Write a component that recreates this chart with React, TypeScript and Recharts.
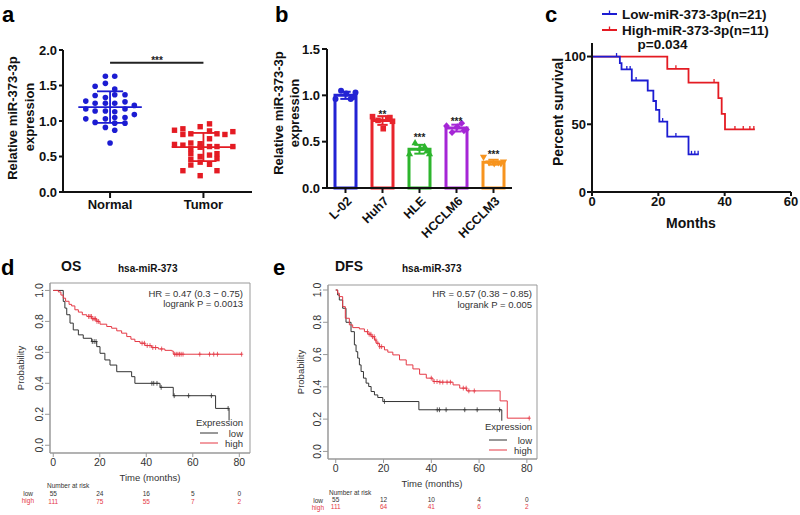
import React from "react";
import {
  ComposedChart,
  Scatter,
  Bar,
  Cell,
  Line,
  XAxis,
  YAxis,
  ReferenceLine,
  ReferenceArea,
} from "recharts";

const FONT = "'Liberation Sans', Arial, Helvetica, sans-serif";

// ---------- panel a: tissue expression ----------
const tissueNames = ["Normal", "Tumor"];
const normalExpr = [
  1.63, 1.53, 1.33, 1.25, 1.14, 1.03, 0.91,
  1.63, 1.45, 1.37, 1.25, 1.13, 1.05, 0.97, 0.87,
  1.49, 1.36, 1.25, 1.14, 0.98,
  1.28, 1.17, 1.03,
  1.37, 1.27, 1.17, 1.05, 0.97,
  1.22, 1.09,
  0.69,
];
const normalJitter = [
  -0.05, -0.05, -0.05, -0.05, -0.05, -0.05, -0.05,
  0.05, 0.05, 0.05, 0.05, 0.05, 0.05, 0.05, 0.05,
  -0.16, -0.16, -0.16, -0.16, -0.16,
  -0.26, -0.26, -0.26,
  0.16, 0.16, 0.16, 0.16, 0.16,
  0.26, 0.26,
  0,
];
const tumorExpr = [
  0.87, 0.89, 0.92, 0.96,
  0.81, 0.82, 0.86, 0.82, 0.81, 0.85,
  0.67, 0.66, 0.69, 0.68, 0.75,
  0.61, 0.63, 0.64, 0.64, 0.64,
  0.54, 0.5, 0.52, 0.54,
  0.46, 0.42, 0.47,
  0.38, 0.39,
  0.3, 0.3,
  0.23,
];
const tumorJitter = [
  -0.31, -0.22, -0.035, 0.065,
  -0.22, -0.135, 0.065, 0.145, 0.23, 0.315,
  -0.31, -0.22, -0.135, -0.035, 0.065,
  -0.135, -0.035, 0.065, 0.145, 0.315,
  -0.135, -0.035, 0.065, 0.145,
  -0.135, -0.035, 0.145,
  -0.135, 0.065,
  -0.22, 0.145,
  -0.035,
];

// ---------- panel b: cell lines ----------
const cellLines = ["L-02", "Huh7", "HLE", "HCCLM6", "HCCLM3"];
const l02Rep = [0.96, 1.05, 1.02, 0.96, 1.03, 0.98];
const huh7Rep = [0.77, 0.73, 0.64, 0.75, 0.72, 0.76];
const hleRep = [0.37, 0.49, 0.43, 0.45, 0.37, 0.4];
const hcclm6Rep = [0.67, 0.6, 0.66, 0.7, 0.63, 0.62];
const hcclm3Rep = [0.33, 0.27, 0.26, 0.27, 0.28, 0.26];
const replicateJitter = [-0.27, -0.12, 0.02, 0.14, 0.27, 0.2];
const cellSig = ["", "**", "***", "***", "***"];
const cellSigY = [0, 0.82, 0.57, 0.75, 0.39];
const cellColors = ["#2323d4", "#e8242c", "#2db52d", "#a526d6", "#f7941e"];
const cellMarkers = ["circle", "square", "triangle", "diamond", "down"];

// ---------- panel c: survival ----------
const cLowT = [0, 8.4, 8.9, 12.0, 16.8, 18.5, 19.3, 20.3, 22.7, 29.1, 32.2];
const cLowS = [100, 95.2, 90.5, 82.3, 74.9, 67.2, 60.6, 52.0, 40.9, 27.8, 27.8];
const cLowCensor = [7.4, 10.5, 11.5, 13.3, 21.3, 25.3, 30.0, 31.0, 32.0];
const cHighT = [0, 22.7, 29.1, 38.1, 39.1, 40.1, 49.1];
const cHighS = [100, 90.9, 80.8, 69.3, 57.7, 46.2, 46.2];
const cHighCensor = [25.3, 36.8, 43.1, 45.6, 47.6, 48.8];

// ---------- panel d: OS ----------
const riskTicks = [0, 20, 40, 60, 80];
const osHighT = [0, 2.2, 3.3, 4.3, 5.3, 6.8, 7.9, 9.3, 10.8, 12.5, 14.4, 16.5, 18.7, 20.1, 23.0, 25.1, 27.3, 29.4, 31.6, 33.4, 35.1, 37.3, 39.4, 42.3, 45.2, 48.0, 50.9, 51.6, 81.0];
const osHighP = [1.0, 0.99, 0.97, 0.95, 0.93, 0.91, 0.9, 0.875, 0.86, 0.843, 0.832, 0.817, 0.8, 0.782, 0.767, 0.756, 0.739, 0.724, 0.702, 0.685, 0.67, 0.659, 0.644, 0.631, 0.622, 0.613, 0.609, 0.588, 0.588];
const osLowT = [0, 4.3, 5.0, 5.8, 7.2, 8.6, 10.8, 12.9, 16.5, 18.7, 20.1, 22.2, 24.4, 27.3, 33.7, 35.1, 45.9, 51.6, 69.8, 75.6];
const osLowP = [1.0, 0.929, 0.886, 0.843, 0.789, 0.745, 0.713, 0.691, 0.67, 0.637, 0.594, 0.551, 0.518, 0.475, 0.443, 0.4, 0.374, 0.32, 0.238, 0.16];
const osHighCensor = [15.2, 15.8, 16.4, 17.0, 17.6, 18.2, 18.8, 19.5, 38.2, 39.2, 40.4, 41.6, 42.8, 44.0, 46.6, 52.2, 52.9, 53.6, 54.3, 55.0, 55.8, 63.0, 67.2, 69.0, 70.6, 81.0];
const osLowCensor = [16.8, 17.6, 18.4, 42.4, 43.2, 44.6, 46.4, 52.0, 58.2, 68.0, 75.2];
const osRiskLow = [55, 24, 16, 5, 0];
const osRiskHigh = [111, 75, 55, 7, 2];

// ---------- panel e: DFS ----------
const dfsHighT = [0, 0.8, 1.5, 2.9, 4.0, 5.7, 7.1, 9.9, 12.0, 13.4, 14.8, 16.2, 16.9, 18.3, 20.4, 21.8, 23.9, 26.7, 29.5, 32.3, 35.1, 37.9, 40.7, 43.5, 49.1, 51.9, 54.8, 68.8, 71.8, 81.1];
const dfsHighP = [1.0, 0.98, 0.959, 0.897, 0.825, 0.784, 0.767, 0.759, 0.742, 0.726, 0.711, 0.69, 0.67, 0.649, 0.629, 0.615, 0.598, 0.567, 0.536, 0.511, 0.478, 0.454, 0.433, 0.429, 0.412, 0.392, 0.375, 0.313, 0.206, 0.206];
const dfsLowT = [0, 0.8, 1.5, 2.9, 4.3, 6.4, 7.8, 8.5, 9.2, 9.9, 10.6, 11.6, 12.7, 13.8, 14.8, 16.2, 17.6, 19.7, 34.8, 69.5];
const dfsLowP = [1.0, 0.969, 0.938, 0.887, 0.8, 0.742, 0.66, 0.618, 0.578, 0.536, 0.495, 0.454, 0.423, 0.402, 0.371, 0.35, 0.334, 0.309, 0.258, 0.19];
const dfsHighCensor = [13.3, 14.0, 14.7, 15.4, 16.1, 16.8, 17.6, 18.4, 19.2, 40.0, 41.2, 42.4, 43.6, 44.8, 46.6, 48.0, 53.4, 54.6, 55.7, 58.0, 81.0];
const dfsLowCensor = [20.4, 42.5, 43.4, 46.2, 54.0, 59.2, 68.6];
const dfsRiskLow = [55, 12, 10, 4, 0];
const dfsRiskHigh = [111, 64, 41, 6, 2];

// ---------- helpers ----------
const mean = (a: number[]) => a.reduce((s, v) => s + v, 0) / a.length;
const sd = (a: number[]) => {
  const m = mean(a);
  return Math.sqrt(a.reduce((s, v) => s + (v - m) ** 2, 0) / (a.length - 1));
};
const survAt = (T: number[], P: number[], t: number) => {
  let p = P[0];
  T.forEach((tt, i) => {
    if (tt <= t) p = P[i];
  });
  return p;
};

const BLUE = "#1c1cd2";
const RED = "#e41b23";
const KM_RED = "#e53945";
const KM_BLACK = "#333";
const BOLD = { fontFamily: FONT, fontWeight: "bold" as const, fill: "#111" };

// ---------- panel a ----------
const normalPts = normalExpr.map((y, i) => ({ x: 1 + normalJitter[i], y }));
const tumorPts = tumorExpr.map((y, i) => ({ x: 2 + tumorJitter[i], y }));
const tissueSets = [normalExpr, tumorExpr];

const PanelA = () => (
  <div style={{ position: "absolute", left: 0, top: 0 }}>
    <ComposedChart width={260} height={240} margin={{ top: 50, right: 8, bottom: 0, left: 0 }}>
      <XAxis
        type="number"
        dataKey="x"
        domain={[0.496, 2.52]}
        ticks={[1, 2]}
        tickFormatter={(v, i) => tissueNames[i]}
        height={48}
        tickSize={6}
        tickMargin={2}
        stroke="#111"
        strokeWidth={2}
        tick={{ ...BOLD, fontSize: 13 }}
      />
      <YAxis
        type="number"
        dataKey="y"
        domain={[0, 2]}
        ticks={[0, 0.5, 1, 1.5, 2]}
        tickFormatter={(v) => v.toFixed(1)}
        width={63}
        tickSize={4}
        tickMargin={2}
        stroke="#111"
        strokeWidth={2}
        tick={{ ...BOLD, fontSize: 13 }}
      />
      <Scatter
        data={normalPts}
        dataKey="y"
        isAnimationActive={false}
        shape={(p: any) => <circle cx={p.cx} cy={p.cy} r={2.8} fill={BLUE} />}
      />
      <Scatter
        data={tumorPts}
        dataKey="y"
        isAnimationActive={false}
        shape={(p: any) => <rect x={p.cx - 2.7} y={p.cy - 2.7} width={5.4} height={5.4} fill={RED} />}
      />
      {tissueSets.map((vals, i) => {
        const m = mean(vals);
        const s = sd(vals);
        const c = i === 0 ? BLUE : RED;
        const x = i + 1;
        return (
          <React.Fragment key={i}>
            <ReferenceLine segment={[{ x: x - 0.34, y: m }, { x: x + 0.34, y: m }]} stroke={c} strokeWidth={1.8} />
            <ReferenceLine segment={[{ x, y: m - s }, { x, y: m + s }]} stroke={c} strokeWidth={1.8} />
            <ReferenceLine segment={[{ x: x - 0.14, y: m + s }, { x: x + 0.14, y: m + s }]} stroke={c} strokeWidth={1.8} />
            <ReferenceLine segment={[{ x: x - 0.14, y: m - s }, { x: x + 0.14, y: m - s }]} stroke={c} strokeWidth={1.8} />
          </React.Fragment>
        );
      })}
      <ReferenceLine segment={[{ x: 1, y: 1.82 }, { x: 2, y: 1.82 }]} stroke="#222" strokeWidth={2} />
    </ComposedChart>
  </div>
);

// ---------- panel b ----------
const cellReps = [l02Rep, huh7Rep, hleRep, hcclm6Rep, hcclm3Rep];
const cellBars = cellLines.map((name, i) => ({ name, mean: mean(cellReps[i]) }));
const sigPts = cellSig
  .map((s, i) => ({ x: i, y: cellSigY[i], s }))
  .filter((d) => d.s !== "");

const marker = (kind: string, color: string) => (p: any) => {
  const { cx, cy } = p;
  if (kind === "circle") return <circle cx={cx} cy={cy} r={3} fill={color} />;
  if (kind === "square") return <rect x={cx - 2.8} y={cy - 2.8} width={5.6} height={5.6} fill={color} />;
  if (kind === "triangle")
    return <polygon points={`${cx},${cy - 3.6} ${cx - 3.6},${cy + 2.6} ${cx + 3.6},${cy + 2.6}`} fill={color} />;
  if (kind === "diamond")
    return <polygon points={`${cx},${cy - 3.6} ${cx - 3.4},${cy} ${cx},${cy + 3.6} ${cx + 3.4},${cy}`} fill={color} />;
  return <polygon points={`${cx},${cy + 3.6} ${cx - 3.6},${cy - 2.6} ${cx + 3.6},${cy - 2.6}`} fill={color} />;
};

const RotTick = (p: any) => (
  <text
    x={p.x + 4}
    y={p.y + 4}
    transform={`rotate(-45 ${p.x + 4} ${p.y + 4})`}
    textAnchor="end"
    dominantBaseline="central"
    fontFamily={FONT}
    fontWeight="bold"
    fontSize={12.5}
    fill="#111"
  >
    {p.payload.value}
  </text>
);

const PanelB = () => (
  <div style={{ position: "absolute", left: 240, top: 0 }}>
    <ComposedChart width={280} height={250} data={cellBars} margin={{ top: 49, right: 8, bottom: 0, left: 0 }}>
      <XAxis
        xAxisId="cat"
        dataKey="name"
        type="category"
        height={62}
        tickSize={5}
        tickMargin={2}
        stroke="#111"
        strokeWidth={2}
        interval={0}
        tick={RotTick}
      />
      <XAxis xAxisId="num" dataKey="x" type="number" domain={[-0.5, 4.5]} hide />
      <YAxis
        type="number"
        domain={[0, 1.5]}
        ticks={[0, 0.5, 1, 1.5]}
        tickFormatter={(v) => v.toFixed(1)}
        width={87}
        tickSize={5}
        tickMargin={2}
        stroke="#111"
        strokeWidth={2}
        tick={{ ...BOLD, fontSize: 13 }}
      />
      <Bar xAxisId="cat" dataKey="mean" barSize={21} fill="#fff" strokeWidth={3} isAnimationActive={false}>
        {cellBars.map((d, i) => (
          <Cell key={d.name} stroke={cellColors[i]} />
        ))}
      </Bar>
      {cellReps.map((vals, i) => {
        const m = mean(vals);
        const s = sd(vals);
        const c = cellColors[i];
        return (
          <React.Fragment key={i}>
            <ReferenceLine xAxisId="num" segment={[{ x: i, y: m - s }, { x: i, y: m + s }]} stroke={c} strokeWidth={2} />
            <ReferenceLine xAxisId="num" segment={[{ x: i - 0.14, y: m + s }, { x: i + 0.14, y: m + s }]} stroke={c} strokeWidth={2} />
            <ReferenceLine xAxisId="num" segment={[{ x: i - 0.14, y: m - s }, { x: i + 0.14, y: m - s }]} stroke={c} strokeWidth={2} />
          </React.Fragment>
        );
      })}
      {cellReps.map((vals, i) => (
        <Scatter
          key={cellLines[i]}
          xAxisId="num"
          dataKey="y"
          data={vals.map((y, j) => ({ x: i + replicateJitter[j], y }))}
          isAnimationActive={false}
          shape={marker(cellMarkers[i], cellColors[i])}
        />
      ))}
      <Scatter
        xAxisId="num"
        dataKey="y"
        data={sigPts}
        isAnimationActive={false}
        shape={(p: any) => (
          <text x={p.cx} y={p.cy + 6} textAnchor="middle" fontFamily={FONT} fontWeight="bold" fontSize={10} fill="#222">
            {p.payload.s}
          </text>
        )}
      />
    </ComposedChart>
  </div>
);

// ---------- panel c ----------
const cLowData = cLowT.map((t, i) => ({ t, s: cLowS[i] }));
const cHighData = cHighT.map((t, i) => ({ t, s: cHighS[i] }));
const cLowTicks = cLowCensor.map((t) => ({ t, s: survAt(cLowT, cLowS, t) }));
const cHighTicks = cHighCensor.map((t) => ({ t, s: survAt(cHighT, cHighS, t) }));
const upTick = (color: string) => (p: any) => (
  <line x1={p.cx} x2={p.cx} y1={p.cy - 3.5} y2={p.cy} stroke={color} strokeWidth={1.3} />
);

const PanelC = () => (
  <div style={{ position: "absolute", left: 520, top: 0 }}>
    <ComposedChart width={280} height={240} margin={{ top: 43, right: 9, bottom: 0, left: 0 }}>
      <XAxis
        type="number"
        dataKey="t"
        domain={[0, 60]}
        ticks={[0, 20, 40, 60]}
        height={48}
        tickSize={4}
        tickMargin={1}
        stroke="#111"
        strokeWidth={2}
        tick={{ ...BOLD, fontSize: 13 }}
      />
      <YAxis
        type="number"
        dataKey="s"
        domain={[0, 110]}
        ticks={[0, 50, 100]}
        width={72}
        tickSize={5}
        tickMargin={1}
        stroke="#111"
        strokeWidth={2}
        tick={{ ...BOLD, fontSize: 13 }}
      />
      <Line data={cHighData} dataKey="s" type="stepAfter" stroke={RED} strokeWidth={1.8} dot={false} isAnimationActive={false} />
      <Line data={cLowData} dataKey="s" type="stepAfter" stroke={BLUE} strokeWidth={1.8} dot={false} isAnimationActive={false} />
      <Scatter data={cHighTicks} dataKey="s" isAnimationActive={false} shape={upTick(RED)} />
      <Scatter data={cLowTicks} dataKey="s" isAnimationActive={false} shape={upTick(BLUE)} />
    </ComposedChart>
  </div>
);

// ---------- panels d & e (KM plotter style) ----------
const plusMark = (color: string) => (p: any) => (
  <g stroke={color} strokeWidth={0.8}>
    <line x1={p.cx} x2={p.cx} y1={p.cy - 2.4} y2={p.cy + 2.4} />
    <line x1={p.cx - 1.6} x2={p.cx + 1.6} y1={p.cy} y2={p.cy} />
  </g>
);

const ProbTick = (p: any) => (
  <text
    x={p.x}
    y={p.y}
    transform={`rotate(-90 ${p.x} ${p.y})`}
    textAnchor="middle"
    dominantBaseline="central"
    fontFamily={FONT}
    fontSize={10.5}
    fill="#333"
  >
    {Number(p.payload.value).toFixed(1)}
  </text>
);

// time tick plus the "number at risk" rows under it
const timeTick = (riskLow: number[], riskHigh: number[], lowDy: number, highDy: number) => (p: any) => (
  <g fontFamily={FONT} textAnchor="middle">
    <text x={p.x} y={p.y} dy="0.71em" fontSize={10.5} fill="#333">
      {p.payload.value}
    </text>
    <text x={p.x} y={p.y + lowDy} dy="0.71em" fontSize={6.5} fill="#333">
      {riskLow[p.index]}
    </text>
    <text x={p.x} y={p.y + highDy} dy="0.71em" fontSize={6.5} fill={KM_RED}>
      {riskHigh[p.index]}
    </text>
  </g>
);

type KMProps = {
  left: number;
  width: number;
  top: number;
  mTop: number;
  mBottom: number;
  xDomain: [number, number];
  yDomain: [number, number];
  highT: number[];
  highP: number[];
  lowT: number[];
  lowP: number[];
  highCensor: number[];
  lowCensor: number[];
  riskLow: number[];
  riskHigh: number[];
  lowDy: number;
  highDy: number;
};

const KMPanel = (k: KMProps) => {
  const hi = k.highT.map((t, i) => ({ t, p: k.highP[i] }));
  const lo = k.lowT.map((t, i) => ({ t, p: k.lowP[i] }));
  const hiC = k.highCensor.map((t) => ({ t, p: survAt(k.highT, k.highP, t) }));
  const loC = k.lowCensor.map((t) => ({ t, p: survAt(k.lowT, k.lowP, t) }));
  return (
    <div style={{ position: "absolute", left: k.left, top: k.top }}>
      <ComposedChart width={k.width} height={265} margin={{ top: k.mTop, right: 9, bottom: k.mBottom, left: 0 }}>
        <XAxis
          type="number"
          dataKey="t"
          domain={k.xDomain}
          ticks={riskTicks}
          interval={0}
          height={54}
          tickSize={4}
          tickMargin={2}
          stroke="#999"
          tick={timeTick(k.riskLow, k.riskHigh, k.lowDy, k.highDy)}
        />
        <YAxis
          type="number"
          dataKey="p"
          domain={k.yDomain}
          ticks={[0, 0.2, 0.4, 0.6, 0.8, 1]}
          interval={0}
          width={50}
          tickSize={5}
          tickMargin={6}
          stroke="#999"
          tick={ProbTick}
        />
        <ReferenceArea
          x1={k.xDomain[0]}
          x2={k.xDomain[1]}
          y1={k.yDomain[0]}
          y2={k.yDomain[1]}
          fill="none"
          stroke="#999"
          strokeWidth={1}
        />
        <Line data={lo} dataKey="p" type="stepAfter" stroke={KM_BLACK} strokeWidth={1} dot={false} isAnimationActive={false} />
        <Line data={hi} dataKey="p" type="stepAfter" stroke={KM_RED} strokeWidth={1} dot={false} isAnimationActive={false} />
        <Scatter data={loC} dataKey="p" isAnimationActive={false} shape={plusMark(KM_BLACK)} />
        <Scatter data={hiC} dataKey="p" isAnimationActive={false} shape={plusMark(KM_RED)} />
      </ComposedChart>
    </div>
  );
};

// ---------- free text (titles, legends, annotations) ----------
const rot = (x: number, y: number) => `translate(${x},${y}) rotate(-90)`;

const Overlay = () => (
  <svg
    width={800}
    height={515}
    style={{ position: "absolute", left: 0, top: 0, pointerEvents: "none" }}
    fontFamily={FONT}
  >
    <g fontSize={22} fontWeight="bold" fill="#000">
      <text x={2} y={22}>a</text>
      <text x={275} y={22}>b</text>
      <text x={545} y={22}>c</text>
      <text x={1} y={275}>d</text>
      <text x={273} y={275}>e</text>
    </g>

    {/* a, b axis titles */}
    <g fontSize={13} fontWeight="bold" fill="#111" textAnchor="middle">
      <text transform={rot(17, 118)}>Relative miR-373-3p</text>
      <text transform={rot(33.5, 117)}>expression</text>
      <text transform={rot(282.6, 113)}>Relative miR-373-3p</text>
      <text transform={rot(298.5, 113)}>expression</text>
    </g>
    <text x={157} y={63.5} textAnchor="middle" fontSize={10} fontWeight="bold" fill="#222">***</text>

    {/* c */}
    <g fontSize={13.5} fontWeight="bold">
      <line x1={602} x2={617} y1={14} y2={14} stroke={BLUE} strokeWidth={2} />
      <line x1={609.5} x2={609.5} y1={10.5} y2={14} stroke={BLUE} strokeWidth={1.3} />
      <text x={622} y={19} fill="#111">Low-miR-373-3p(n=21)</text>
      <line x1={602} x2={617} y1={30} y2={30} stroke={RED} strokeWidth={2} />
      <line x1={609.5} x2={609.5} y1={26.5} y2={30} stroke={RED} strokeWidth={1.3} />
      <text x={622} y={35} fill="#111">High-miR-373-3p(n=11)</text>
      <text x={662.5} y={48.5} textAnchor="middle" fill="#111">p=0.034</text>
    </g>
    <g fontSize={14} fontWeight="bold" fill="#111" textAnchor="middle">
      <text transform={rot(563, 112)}>Percent survival</text>
      <text x={691} y={228}>Months</text>
    </g>

    {/* d */}
    <text x={61} y={271} fontSize={14} fontWeight="bold" fill="#111">OS</text>
    <text x={118} y={272} fontSize={10} fontWeight="bold" fill="#111">hsa-miR-373</text>
    <g fontSize={9.5} fill="#333" textAnchor="end">
      <text x={243} y={296.5}>HR = 0.47 (0.3 − 0.75)</text>
      <text x={243} y={307}>logrank P = 0.0013</text>
      <text x={243} y={426}>Expression</text>
      <text x={243} y={436.5}>low</text>
      <text x={243} y={446.5}>high</text>
    </g>
    <line x1={200} x2={218} y1={433} y2={433} stroke={KM_BLACK} strokeWidth={1} />
    <line x1={200} x2={218} y1={443} y2={443} stroke={KM_RED} strokeWidth={1} />
    <text transform={rot(23.5, 368)} textAnchor="middle" fontSize={9.5} fill="#333">Probability</text>
    <text x={150} y={481} textAnchor="middle" fontSize={9.5} fill="#333">Time (months)</text>
    <text x={47} y={488} fontSize={6.5} fill="#333">Number at risk</text>
    <g fontSize={6.5} textAnchor="end">
      <text x={33} y={495.5} fill="#333">low</text>
      <text x={34} y={503} fill={KM_RED}>high</text>
    </g>

    {/* e */}
    <text x={335} y={271} fontSize={14} fontWeight="bold" fill="#111">DFS</text>
    <text x={402} y={272} fontSize={10} fontWeight="bold" fill="#111">hsa-miR-373</text>
    <g fontSize={9.5} fill="#333" textAnchor="end">
      <text x={532} y={297}>HR = 0.57 (0.38 − 0.85)</text>
      <text x={532} y={308}>logrank P = 0.005</text>
      <text x={532} y={430}>Expression</text>
      <text x={532} y={443.5}>low</text>
      <text x={532} y={453.5}>high</text>
    </g>
    <line x1={489} x2={507} y1={440} y2={440} stroke={KM_BLACK} strokeWidth={1} />
    <line x1={489} x2={507} y1={450} y2={450} stroke={KM_RED} strokeWidth={1} />
    <text transform={rot(304, 372)} textAnchor="middle" fontSize={9.5} fill="#333">Probability</text>
    <text x={432} y={487} textAnchor="middle" fontSize={9.5} fill="#333">Time (months)</text>
    <text x={329} y={495} fontSize={6.5} fill="#333">Number at risk</text>
    <g fontSize={6.5} textAnchor="end">
      <text x={323} y={502.5} fill="#333">low</text>
      <text x={324} y={509.5} fill={KM_RED}>high</text>
    </g>
  </svg>
);

export default function App() {
  return (
    <div style={{ position: "absolute", left: 0, top: 0, width: 800, height: 515, background: "#fff", overflow: "hidden" }}>
      <PanelA />
      <PanelB />
      <PanelC />
      <KMPanel
        left={0}
        width={259}
        top={250}
        mTop={33}
        mBottom={8}
        xDomain={[-1.4, 84.6]}
        yDomain={[-0.05, 1.048]}
        highT={osHighT}
        highP={osHighP}
        lowT={osLowT}
        lowP={osLowP}
        highCensor={osHighCensor}
        lowCensor={osLowCensor}
        riskLow={osRiskLow}
        riskHigh={osRiskHigh}
        lowDy={32}
        highDy={40}
      />
      <KMPanel
        left={278}
        width={268}
        top={250}
        mTop={35}
        mBottom={2}
        xDomain={[-3.24, 84.24]}
        yDomain={[-0.047, 1.031]}
        highT={dfsHighT}
        highP={dfsHighP}
        lowT={dfsLowT}
        lowP={dfsLowP}
        highCensor={dfsHighCensor}
        lowCensor={dfsLowCensor}
        riskLow={dfsRiskLow}
        riskHigh={dfsRiskHigh}
        lowDy={32.5}
        highDy={39.5}
      />
      <Overlay />
    </div>
  );
}
